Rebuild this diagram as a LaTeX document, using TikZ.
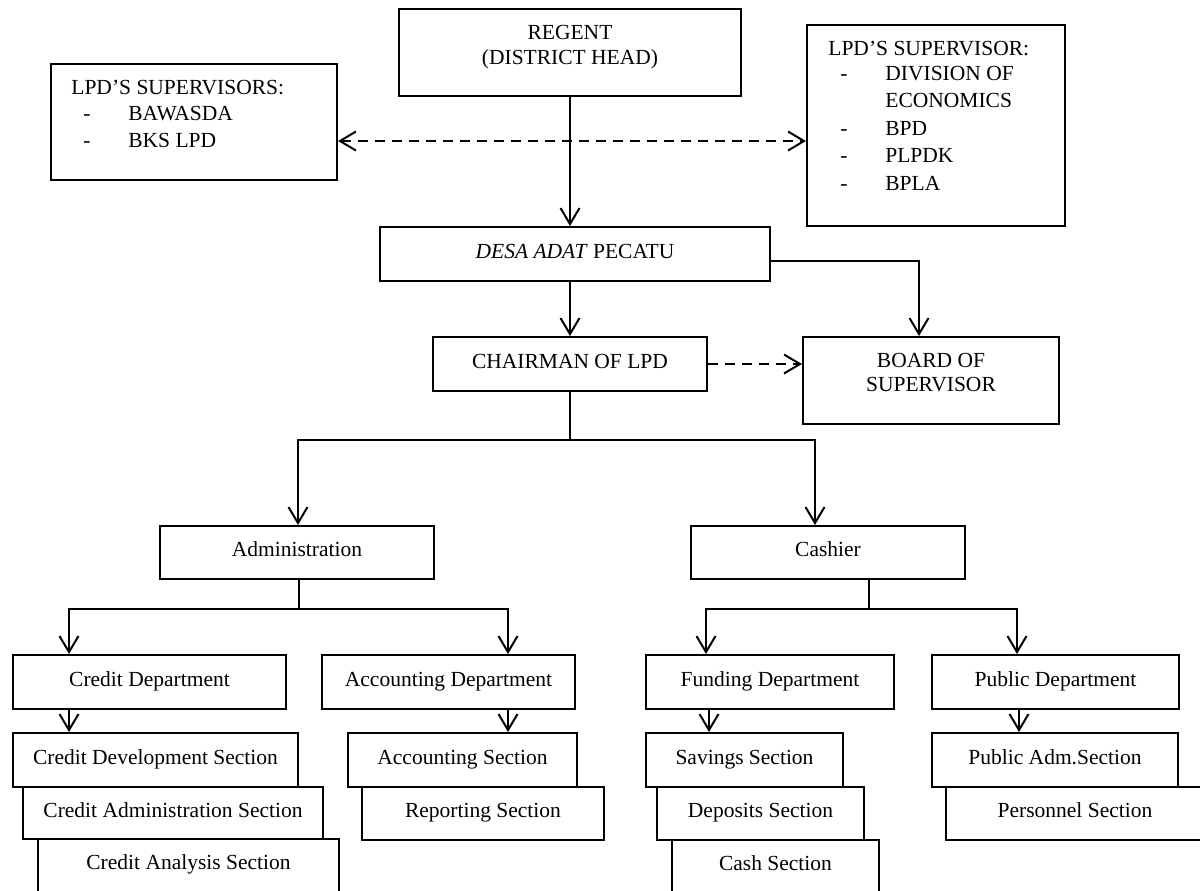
\documentclass[tikz,border=0pt]{standalone}
\usepackage{fontspec}
\setmainfont{Liberation Serif}
\usetikzlibrary{arrows.meta}
\newcommand\boxnode[6]{\node[box, minimum width={0.5pt*(#4-#2)}, minimum height={0.5pt*(#5-#3)}] (#1) at ({(#2+#4)/2},{(#3+#5)/2}) {#6};}
\begin{document}
\begin{tikzpicture}[x=0.5pt,y=-0.5pt,
  box/.style={draw, line width=1pt, fill=white, inner sep=0pt, rectangle, text height=7.6pt, text depth=3.5pt, font=\fontsize{10.75}{12.5}\selectfont},
  txt/.style={inner sep=0pt, font=\fontsize{10.75}{12.5}\selectfont},
  conn/.style={line width=1pt},
  tip/.tip={Straight Barb[length=8pt,width=9.5pt]},
  arr/.style={line width=1pt, -tip},
  dsh/.style={line width=1pt, dash pattern=on 5pt off 3.5pt}]
\useasboundingbox (0,0) rectangle (1200,890);
\clip (0,0) rectangle (1200,890);

% top level
\boxnode{regent}{399}{9}{741}{96}{}
\node[txt, anchor=base] (regenttxt) at (570,39) {\begin{tabular}[t]{@{}c@{}}REGENT\\(DISTRICT HEAD)\end{tabular}};

\boxnode{leftsup}{51}{64}{337}{180}{}
\node[txt, anchor=base west, font=\fontsize{10.75}{13.25}\selectfont] (lefttxt) at (71,94) {\begin{tabular}[t]{@{}l@{}}LPD’S SUPERVISORS:\\
\hspace*{6pt}\makebox[22.5pt][l]{-}BAWASDA\\
\hspace*{6pt}\makebox[22.5pt][l]{-}BKS LPD\end{tabular}};

\boxnode{rightsup}{807}{25}{1065}{226}{}
\node[txt, anchor=base west, font=\fontsize{10.75}{13.7}\selectfont] (righttxt) at (828,55) {\begin{tabular}[t]{@{}l@{}}LPD’S SUPERVISOR:\\[-1pt]
\hspace*{6pt}\makebox[22.5pt][l]{-}DIVISION OF\\
\hspace*{6pt}\makebox[22.5pt][l]{}ECONOMICS\\
\hspace*{6pt}\makebox[22.5pt][l]{-}BPD\\
\hspace*{6pt}\makebox[22.5pt][l]{-}PLPDK\\
\hspace*{6pt}\makebox[22.5pt][l]{-}BPLA\end{tabular}};

\boxnode{desa}{380}{227}{770}{281}{\textit{DESA ADAT} PECATU}
\boxnode{chairman}{433}{337}{707}{391}{CHAIRMAN OF LPD}
\boxnode{board}{803}{337}{1059}{424}{}
\node[txt, anchor=base] (boardtxt) at (931,367) {\begin{tabular}[t]{@{}c@{}}BOARD OF\\[-0.25pt]SUPERVISOR\end{tabular}};

% second level
\boxnode{admin}{160}{526}{434}{579}{Administration}
\boxnode{cashier}{691}{526}{965}{579}{Cashier}

% departments
\boxnode{creditdept}{13}{655}{286}{709}{Credit Department}
\boxnode{acctdept}{322}{655}{575}{709}{Accounting Department}
\boxnode{fundingdept}{646}{655}{894}{709}{Funding Department}
\boxnode{publicdept}{932}{655}{1179}{709}{Public Department}

% sections
\boxnode{cdev}{13}{733}{298}{787}{Credit Development Section}
\boxnode{cadm}{23}{787}{323}{839}{Credit Administration Section}
\boxnode{cana}{38}{839}{339}{892}{Credit Analysis Section}
\boxnode{acctsec}{348}{733}{577}{787}{Accounting Section}
\boxnode{reporting}{362}{787}{604}{840}{Reporting Section}
\boxnode{savings}{646}{733}{843}{787}{Savings Section}
\boxnode{deposits}{657}{787}{864}{840}{Deposits Section}
\boxnode{cash}{672}{840}{879}{892}{Cash Section}
\boxnode{publicadm}{932}{733}{1178}{787}{Public Adm.Section}
\boxnode{personnel}{946}{787}{1204}{840}{Personnel Section}

% helper coordinates
\coordinate (dashy) at (570,141);
\coordinate (bdx) at (919,261);
\coordinate (fork1) at (570,440);
\coordinate (adminx) at (298,440);
\coordinate (cashx) at (815,440);
\coordinate (fork2) at (299,609);
\coordinate (cdx) at (69,609);
\coordinate (adx) at (508,609);
\coordinate (fork3) at (869,609);
\coordinate (fdx) at (706,609);
\coordinate (pdx) at (1017,609);
\coordinate (fsx) at (709,720);
\coordinate (psx) at (1019,720);

% connectors
\draw[arr] (regent.south) -- (regent.south |- desa.north);
\draw[dsh, tip-tip] (leftsup.east |- dashy) -- (rightsup.west |- dashy);
\draw[arr] (chairman.north |- desa.south) -- (chairman.north);
\draw[arr] (desa.east |- bdx) -- (bdx) -- (bdx |- board.north);
\draw[dsh, -tip] (chairman.east) -- (board.west |- chairman.east);

\draw[conn] (chairman.south) -- (fork1);
\draw[arr] (fork1) -- (adminx) -- (adminx |- admin.north);
\draw[arr] (fork1) -- (cashx) -- (cashx |- cashier.north);

\draw[conn] (fork2 |- admin.south) -- (fork2);
\draw[arr] (fork2) -- (cdx) -- (cdx |- creditdept.north);
\draw[arr] (fork2) -- (adx) -- (adx |- acctdept.north);

\draw[conn] (fork3 |- cashier.south) -- (fork3);
\draw[arr] (fork3) -- (fdx) -- (fdx |- fundingdept.north);
\draw[arr] (fork3) -- (pdx) -- (pdx |- publicdept.north);

\draw[arr] (cdx |- creditdept.south) -- (cdx |- cdev.north);
\draw[arr] (adx |- acctdept.south) -- (adx |- acctsec.north);
\draw[arr] (fsx |- fundingdept.south) -- (fsx |- savings.north);
\draw[arr] (psx |- publicdept.south) -- (psx |- publicadm.north);
\end{tikzpicture}
\end{document}
